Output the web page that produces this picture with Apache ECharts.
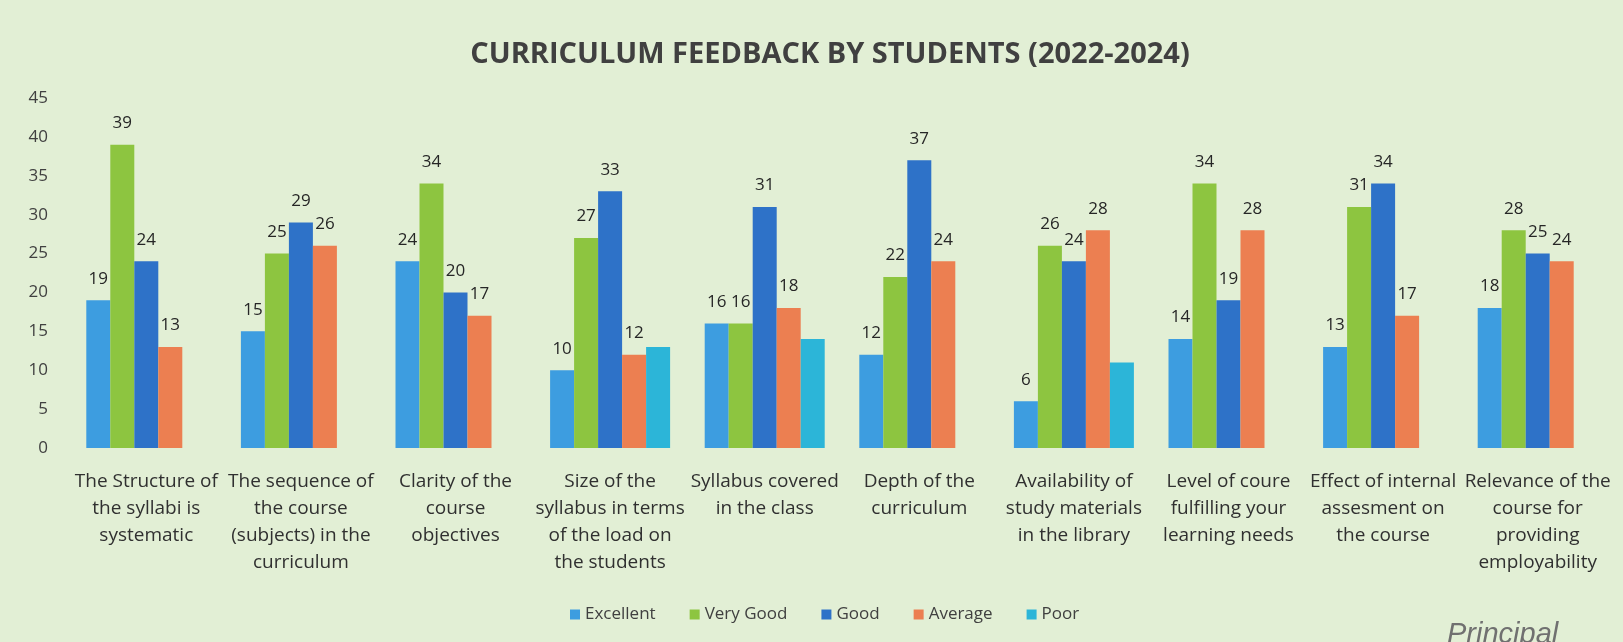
<!DOCTYPE html>
<html>
<head>
<meta charset="utf-8">
<script src="https://cdn.jsdelivr.net/npm/echarts@6/dist/echarts.min.js"></script>
<style>
  html, body { margin: 0; padding: 0; background: #e2efd5; }
  #chart { width: 1623px; height: 642px; }
</style>
</head>
<body>
<div id="chart"></div>
<script>
// categories (line breaks as printed under the bars)
var categories = [
  "The Structure of\nthe syllabi is\nsystematic",
  "The sequence of\nthe course\n(subjects) in the\ncurriculum",
  "Clarity of the\ncourse\nobjectives",
  "Size of the\nsyllabus in terms\nof the load on\nthe students",
  "Syllabus covered\nin the class",
  "Depth of the\ncurriculum",
  "Availability of\nstudy materials\nin the library",
  "Level of coure\nfulfilling your\nlearning needs",
  "Effect of internal\nassesment on\nthe course",
  "Relevance of the\ncourse for\nproviding\nemployability"
];
var seriesNames = ["Excellent", "Very Good", "Good", "Average", "Poor"];
var excellent = [19, 15, 24, 10, 16, 12, 6, 14, 13, 18];
var veryGood  = [39, 25, 34, 27, 16, 22, 26, 34, 31, 28];
var good      = [24, 29, 20, 33, 31, 37, 24, 19, 34, 25];
var average   = [13, 26, 17, 12, 18, 24, 28, 28, 17, 24];
var poor      = [0, 0, 0, 13, 14, 0, 11, 0, 0, 0];
var yTicks = [0, 5, 10, 15, 20, 25, 30, 35, 40, 45];

(function () {
  var myChart = echarts.init(document.getElementById("chart"));
  var font = "'Open Sans', sans-serif";
  var colors = ["#3d9de0", "#8dc540", "#2e72c8", "#ec7f51", "#2cb5d8"];
  var values = [excellent, veryGood, good, average, poor];

  var series = seriesNames.map(function (name, i) {
    return {
      name: name,
      type: "bar",
      barWidth: 24,
      barGap: "0%",
      data: values[i],
      itemStyle: { color: colors[i] },
      label: {
        show: i < 4, // Poor has no value labels
        position: "top",
        distance: 13,
        color: "#262626",
        fontSize: 17,
        fontFamily: font
      }
    };
  });

  var option = {
    backgroundColor: "#e2efd5",
    color: colors,
    title: [
      {
        text: "CURRICULUM FEEDBACK BY STUDENTS (2022-2024)",
        left: 825,
        textAlign: "center",
        top: 35,
        textStyle: { color: "#404040", fontSize: 29, fontWeight: "bold", fontFamily: font }
      },
      {
        text: "Principal",
        left: 1442,
        top: 615,
        textStyle: { color: "#707070", fontSize: 29, fontStyle: "italic", fontWeight: "normal", fontFamily: "'Liberation Sans', sans-serif" }
      }
    ],
    legend: {
      data: seriesNames,
      left: 565,
      top: 601,
      icon: "rect",
      itemWidth: 10,
      itemHeight: 10,
      itemGap: 34,
      textStyle: { color: "#404040", fontSize: 17, fontFamily: font },
      selectedMode: false
    },
    grid: {
      left: 69,
      right: 8,
      top: 98,
      bottom: 194,
      containLabel: false
    },
    xAxis: {
      type: "category",
      data: categories,
      axisLine: { show: false },
      axisTick: { show: false },
      axisLabel: {
        interval: 0,
        margin: 20,
        color: "#303030",
        fontSize: 19,
        lineHeight: 27,
        fontFamily: font
      }
    },
    yAxis: {
      type: "value",
      min: yTicks[0],
      max: yTicks[yTicks.length - 1],
      interval: 5,
      axisLine: { show: false },
      axisTick: { show: false },
      splitLine: { show: false },
      axisLabel: {
        margin: 21,
        color: "#404040",
        fontSize: 17,
        fontFamily: font
      }
    },
    series: series
  };

  myChart.setOption(option);
  window.addEventListener("resize", function () {
    myChart.resize();
  });
})();
</script>
</body>
</html>
